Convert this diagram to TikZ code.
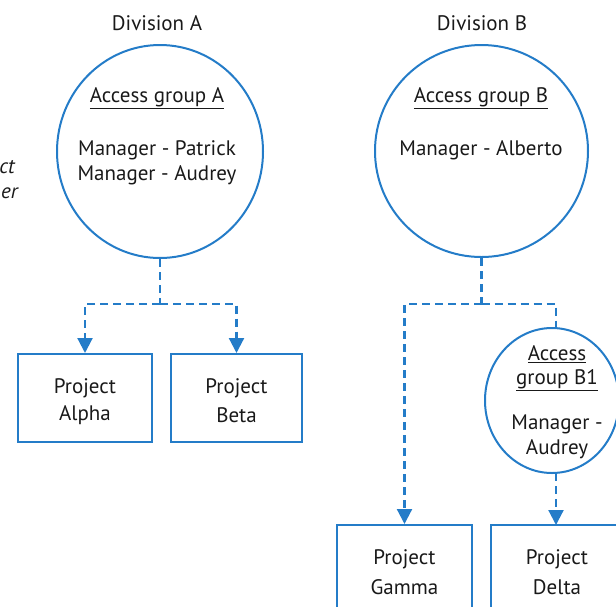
\documentclass[tikz,border=0pt]{standalone}
\usepackage{fontspec}
\setmainfont{PT Sans}
\usetikzlibrary{shapes.geometric,arrows.meta}
\definecolor{lineblue}{RGB}{36,124,200}
\definecolor{txt}{RGB}{25,25,25}
\tikzset{
  grp/.style={draw=lineblue,line width=2pt,ellipse,inner sep=0pt},
  proj/.style={draw=lineblue,line width=2pt,rectangle,inner sep=0pt},
  lbl/.style={text=txt,font=\fontsize{21}{24}\selectfont,inner sep=0pt,anchor=center},
  conn/.style={draw=lineblue,line width=2.2pt,dash pattern=on 8pt off 5pt},
  arr/.style={conn,-{Triangle[length=15pt,width=15pt]}}
}
\begin{document}
\begin{tikzpicture}[x=1pt,y=-1pt]
\useasboundingbox (0,0) rectangle (616,606);
\clip (0,0) rectangle (616,606);
% left cut-off text
\node[lbl,anchor=east,font=\fontsize{21}{24}\itshape] (t1) at (15,167) {ct};
\node[lbl,anchor=east,font=\fontsize{21}{24}\itshape] (t2) at (18,193) {er};
% titles
\node[lbl] (divA) at (157,23) {Division A};
\node[lbl] (divB) at (482,23) {Division B};
% circles
\node[grp,minimum width=206pt,minimum height=213pt] (A) at (160,151.5) {};
\node[grp,minimum width=213pt,minimum height=212pt] (B) at (481.5,151) {};
\node[grp,minimum width=134pt,minimum height=145pt] (B1) at (552,400.5) {};
% circle texts
\node[lbl] (ga) at (157,98) {\underline{Access group A}};
\node[lbl] (ma1) at (157,150) {Manager - Patrick};
\node[lbl] (ma2) at (157,175) {Manager - Audrey};
\node[lbl] (gb) at (481,98) {\underline{Access group B}};
\node[lbl] (mb1) at (481,150) {Manager - Alberto};
\node[lbl] (gb1a) at (557,354) {\underline{Access}};
\node[lbl] (gb1b) at (557,380) {\underline{group B1}};
\node[lbl] (mb1a) at (557,424) {Manager -};
\node[lbl] (mb1b) at (557,449) {Audrey};
% project boxes
\node[proj,minimum width=134pt,minimum height=88pt] (alpha) at (85,398) {};
\node[proj,minimum width=131pt,minimum height=88pt] (beta) at (236.5,398) {};
\node[proj,minimum width=135pt,minimum height=88pt] (gamma) at (404.5,569) {};
\node[proj,minimum width=133pt,minimum height=88pt] (delta) at (557.5,569) {};
\node[lbl] (pa1) at (85,388) {Project};
\node[lbl] (pa2) at (85,415) {Alpha};
\node[lbl] (pb1) at (236.5,388) {Project};
\node[lbl] (pb2) at (236.5,415) {Beta};
\node[lbl] (pg1) at (404.5,559) {Project};
\node[lbl] (pg2) at (404.5,587) {Gamma};
\node[lbl] (pd1) at (557,559) {Project};
\node[lbl] (pd2) at (557,587) {Delta};
% connectors
\coordinate (ja) at (160,304);
\coordinate (jb) at (481.5,304);
\draw[conn] (A.south) -- (ja);
\draw[arr] (ja) -| (alpha.north);
\draw[arr] (ja) -| (beta.north);
\draw[conn] (B.south) -- (jb);
\draw[arr] (jb) -| (gamma.north);
\draw[conn] (jb) -| (556,328);
\draw[arr] (556,473) -- (556,525);
\end{tikzpicture}
\end{document}
